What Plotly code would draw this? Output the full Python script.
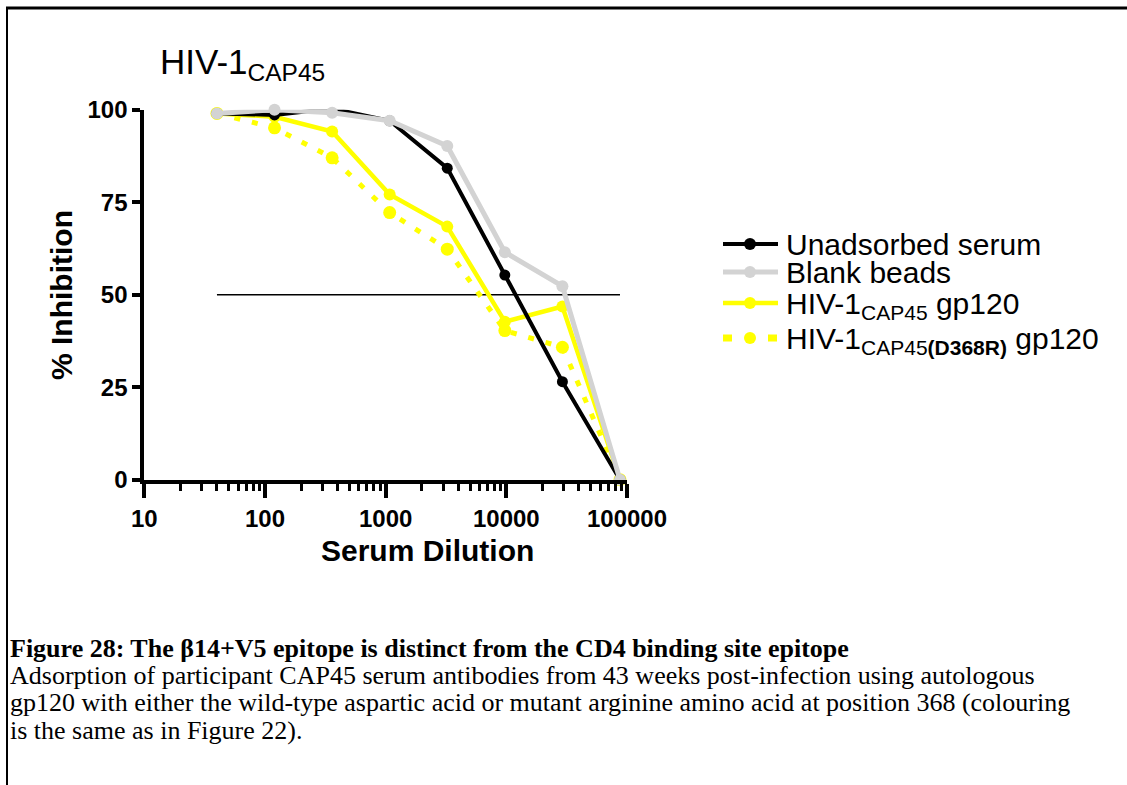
import plotly.graph_objects as go

# ---------------- data ----------------
dilution = [40, 120, 360, 1080, 3240, 9720, 29160, 87480]
unadsorbed = [99, 98.6, 100.3, 97, 84.2, 55.3, 26.5, 0]
blank_beads = [99, 100, 99.2, 97, 90.2, 61.5, 52.3, 0]
gp120_wt = [99, 98.1, 94.1, 77.1, 68.4, 42.7, 46.8, 0]
gp120_d368r = [99, 95.1, 87, 72.2, 62.3, 40.3, 35.8, 0]
threshold_x = [40, 87480]
threshold_y = [50, 50]

series_names = [
    "Unadsorbed serum",
    "Blank beads",
    "HIV-1<sub>CAP45</sub> gp120",
    "HIV-1<sub>CAP45<b>(D368R)</b></sub> gp120",
]
x_tick_vals = [10, 100, 1000, 10000, 100000]
x_tick_text = ["10", "100", "1000", "10000", "100000"]
y_tick_vals = [0, 25, 50, 75, 100]
y_tick_text = ["0", "25", "50", "75", "100"]

W, H = 1127, 785


def px(x):
    return x / W


def py(y):
    return 1 - y / H


fig = go.Figure()

fig.add_trace(go.Scatter(x=threshold_x, y=threshold_y, mode="lines",
                         line=dict(color="black", width=1.5),
                         showlegend=False, hoverinfo="skip"))
fig.add_trace(go.Scatter(x=dilution, y=gp120_d368r, mode="lines+markers", name=series_names[3],
                         line=dict(color="#ffff00", width=5, dash="6px,12px"),
                         marker=dict(size=13, color="#ffff00"), cliponaxis=False))
fig.add_trace(go.Scatter(x=dilution, y=gp120_wt, mode="lines+markers", name=series_names[2],
                         line=dict(color="#ffff00", width=4.5),
                         marker=dict(size=12, color="#ffff00"), cliponaxis=False))
fig.add_trace(go.Scatter(x=dilution, y=unadsorbed, mode="lines+markers", name=series_names[0],
                         line=dict(color="black", width=4),
                         marker=dict(size=11, color="black"), cliponaxis=False))
fig.add_trace(go.Scatter(x=dilution, y=blank_beads, mode="lines+markers", name=series_names[1],
                         line=dict(color="#d3d3d3", width=5),
                         marker=dict(size=12, color="#d3d3d3"), cliponaxis=False))

minor_vals = [m * 10 ** e for e in range(1, 5) for m in range(2, 10)]

fig.update_xaxes(
    type="log", range=[1, 5], domain=[px(144.3), px(627)],
    showgrid=False, zeroline=False, showline=True, linecolor="black", linewidth=4,
    ticks="outside", ticklen=14, tickwidth=4, tickcolor="black",
    tickvals=x_tick_vals, ticktext=x_tick_text,
    tickfont=dict(family="Arial, Liberation Sans", size=24, color="black", weight="bold"),
    minor=dict(tickmode="array", tickvals=minor_vals, ticks="outside", ticklen=7,
               tickwidth=3, tickcolor="black", showgrid=False),
    automargin=False,
)
fig.update_yaxes(
    range=[0, 100], domain=[py(479.7), py(109.7)],
    showgrid=False, zeroline=False, showline=True, linecolor="black", linewidth=4,
    ticks="outside", ticklen=8, tickwidth=4, tickcolor="black",
    tickvals=y_tick_vals, ticktext=y_tick_text,
    tickfont=dict(family="Arial, Liberation Sans", size=24, color="black", weight="bold"),
    automargin=False,
)

annotations = []
# chart title
annotations.append(dict(text="HIV-1<sub>CAP45</sub>", x=px(158), y=py(64), xref="paper", yref="paper",
                        xanchor="left", yanchor="middle", showarrow=False,
                        font=dict(family="Arial, Liberation Sans", size=35, color="black")))
# axis titles
annotations.append(dict(text="<b>% Inhibition</b>", x=px(61), y=py(295), xref="paper", yref="paper",
                        xanchor="center", yanchor="middle", showarrow=False, textangle=-90,
                        font=dict(family="Arial, Liberation Sans", size=30, color="black")))
annotations.append(dict(text="<b>Serum Dilution</b>", x=px(427), y=py(550), xref="paper", yref="paper",
                        xanchor="center", yanchor="middle", showarrow=False,
                        font=dict(family="Arial, Liberation Sans", size=30, color="black")))

# manual legend
leg_rows = [244, 272, 303, 338]
leg_text_y = [245, 273, 305, 340]
leg_colors = ["black", "#d3d3d3", "#ffff00", "#ffff00"]
leg_widths = [4, 5, 4.5, 7]
leg_dash = ["solid", "solid", "solid", "9px,36px"]
shapes = []
for i, name in enumerate(series_names):
    y = leg_rows[i]
    shapes.append(dict(type="line", xref="paper", yref="paper", x0=px(723), x1=px(778),
                       y0=py(y), y1=py(y), line=dict(color=leg_colors[i], width=leg_widths[i],
                                                     dash=leg_dash[i])))
    shapes.append(dict(type="circle", xref="paper", yref="paper", x0=px(744), x1=px(756),
                       y0=py(y - 6), y1=py(y + 6), fillcolor=leg_colors[i],
                       line=dict(width=0)))
    annotations.append(dict(text=name, x=px(784), y=py(leg_text_y[i]), xref="paper", yref="paper",
                            xanchor="left", yanchor="middle", showarrow=False,
                            font=dict(family="Arial, Liberation Sans", size=30, color="black")))

# frame
shapes.append(dict(type="line", xref="paper", yref="paper", x0=px(6), x1=1, y0=py(8), y1=py(8),
                   line=dict(color="black", width=3)))
shapes.append(dict(type="line", xref="paper", yref="paper", x0=px(7), x1=px(7), y0=py(8), y1=0,
                   line=dict(color="black", width=2)))

# caption
caption_lines = [
    "<b>Figure 28: The β14+V5 epitope is distinct from the CD4 binding site epitope</b>",
    "Adsorption of participant CAP45 serum antibodies from 43 weeks post-infection using autologous",
    "gp120 with either the wild-type aspartic acid or mutant arginine amino acid at position 368 (colouring",
    "is the same as in Figure 22).",
]
caption_y = [648, 675, 702, 730]
for t, y in zip(caption_lines, caption_y):
    annotations.append(dict(text=t, x=px(8), y=py(y), xref="paper", yref="paper",
                            xanchor="left", yanchor="middle", showarrow=False,
                            font=dict(family="Liberation Serif, Times New Roman", size=26, color="black")))

fig.update_layout(
    width=W, height=H, autosize=False,
    margin=dict(l=0, r=0, t=0, b=0),
    paper_bgcolor="white", plot_bgcolor="white",
    showlegend=False,
    annotations=annotations, shapes=shapes,
)

fig.write_html("out.html", config={"displayModeBar": False},
               post_script="document.body.style.margin='0px';")
